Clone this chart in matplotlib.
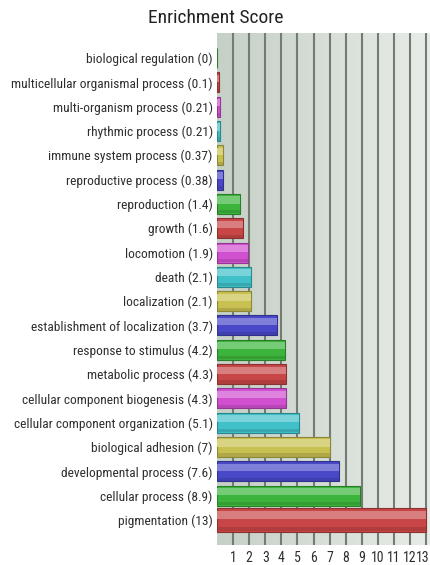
import matplotlib
matplotlib.use("Agg")
import matplotlib.pyplot as plt
import matplotlib.transforms as mtransforms
import numpy as np
from matplotlib.colors import to_rgb
from matplotlib import font_manager as fm

# categories (top to bottom) and enrichment scores
categories = [
    "biological regulation", "multicellular organismal process", "multi-organism process",
    "rhythmic process", "immune system process", "reproductive process", "reproduction",
    "growth", "locomotion", "death", "localization", "establishment of localization",
    "response to stimulus", "metabolic process", "cellular component biogenesis",
    "cellular component organization", "biological adhesion", "developmental process",
    "cellular process", "pigmentation",
]
scores = [0, 0.1, 0.21, 0.21, 0.37, 0.38, 1.4, 1.6, 1.9, 2.1, 2.1, 3.7,
          4.2, 4.3, 4.3, 5.1, 7, 7.6, 8.9, 13]
score_labels = ["0", "0.1", "0.21", "0.21", "0.37", "0.38", "1.4", "1.6", "1.9", "2.1",
                "2.1", "3.7", "4.2", "4.3", "4.3", "5.1", "7", "7.6", "8.9", "13"]
x_ticks = list(range(1, 14))

# colour cycle of the bars: green, red, magenta, cyan, yellow, blue
palette = ["#3cb43c", "#c84646", "#d050d0", "#40c0c8", "#c8c050", "#4848c8"]

# a narrow sans face looks closest to the original; use what is installed
available = {f.name for f in fm.fontManager.ttflist}
narrow = [f for f in ["Liberation Sans Narrow", "Roboto Condensed", "Archivo Narrow",
                      "PT Sans Narrow", "Open Sans Condensed", "Fira Sans Condensed",
                      "Encode Sans Condensed", "IBM Plex Sans Condensed"] if f in available]
plt.rcParams['font.family'] = narrow[:1] + ['Liberation Sans', 'DejaVu Sans']
lab_size = 9.6 if narrow else 8.4

fig = plt.figure(figsize=(4.31, 5.65), dpi=100)
W, H = 431, 565
ax = fig.add_axes([217 / W, 1 - 545 / H, 214 / W, 512 / H])

n = len(categories)
ypos = np.arange(n)
xmax = 13.3
ax.set_xlim(0, xmax)
ax.set_ylim(n - 1 + 1.03, -1.03)

# background gradient (darker greenish gray on the left, lighter on the right)
grad = np.linspace(0, 1, 256).reshape(1, -1)
c0 = np.array(to_rgb("#c5d0c6"))
c1 = np.array(to_rgb("#e8ece8"))
img = c0[None, None, :] * (1 - grad[..., None]) + c1[None, None, :] * grad[..., None]
ax.imshow(img, extent=(0, xmax, n - 1 + 1.03, -1.03), aspect='auto', zorder=0)

# vertical gridlines
for xv in x_ticks:
    ax.axvline(xv, color="#737b73", lw=1.5, zorder=1)

# bars with a simple shaded look
for i, (cat, val) in enumerate(zip(categories, scores)):
    col = np.array(to_rgb(palette[i % len(palette)]))
    h = 0.95 if i == n - 1 else 0.82
    dark = col * 0.7
    light = col + (1 - col) * 0.3
    ax.barh(i, val, height=h, color=col, edgecolor=dark, lw=0.8, zorder=3)
    ax.barh(i - h * 0.2, val, height=h * 0.36, color=light, lw=0, zorder=4)
    ax.barh(i + h * 0.4, val, height=h * 0.16, color=dark, lw=0, alpha=0.4, zorder=4)

ax.set_yticks(ypos)
ax.set_yticklabels([f"{c} ({s})" for c, s in zip(categories, score_labels)],
                   fontsize=lab_size, color="#2e2e2e")
ax.set_xticks(x_ticks)
ax.set_xticklabels([str(t) for t in x_ticks], fontsize=lab_size + 0.4, color="#2e2e2e")
ax.tick_params(axis='y', length=0, pad=3)
ax.tick_params(axis='x', length=0, pad=4)
for s in ax.spines.values():
    s.set_visible(False)

# nudge the last tick label so it stays inside the canvas
last = ax.get_xticklabels()[-1]
last.set_transform(last.get_transform() +
                   mtransforms.ScaledTranslation(-3 / 100, 0, fig.dpi_scale_trans))

fig.text(0.5, 1 - 18 / H, "Enrichment Score", ha='center', va='center',
         fontsize=14, color="#222222")

fig.savefig("out.png", dpi=100, facecolor="white")
